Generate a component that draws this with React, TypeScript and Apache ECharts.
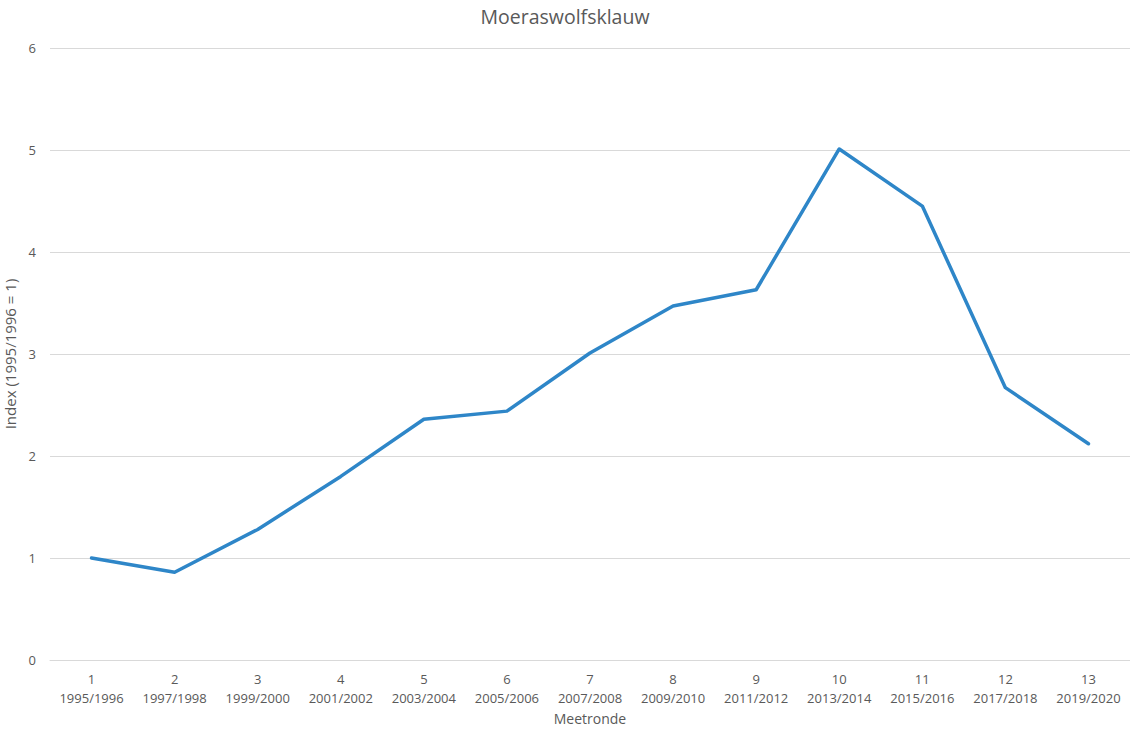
import React, { useEffect, useRef } from "react";
import * as echarts from "echarts";

const rounds = ["1", "2", "3", "4", "5", "6", "7", "8", "9", "10", "11", "12", "13"];
const seasons = [
  "1995/1996", "1997/1998", "1999/2000", "2001/2002", "2003/2004", "2005/2006",
  "2007/2008", "2009/2010", "2011/2012", "2013/2014", "2015/2016", "2017/2018", "2019/2020",
];
const indexValues = [1.0, 0.86, 1.28, 1.8, 2.36, 2.44, 3.01, 3.47, 3.63, 5.01, 4.45, 2.67, 2.12];
const yTicks = [0, 6, 1];

const FONT = "'Open Sans', 'Noto Sans', sans-serif";

export default function App() {
  const ref = useRef<HTMLDivElement>(null);

  useEffect(() => {
    if (!ref.current) return;
    const chart = echarts.init(ref.current, undefined, { renderer: "svg" });
    const categories = rounds.map((r, i) => `${r}\n${seasons[i]}`);
    chart.setOption({
      animation: false,
      backgroundColor: "#ffffff",
      textStyle: { fontFamily: FONT },
      title: {
        text: "Moeraswolfsklauw",
        left: "center",
        top: 1,
        textStyle: { fontFamily: FONT, fontSize: 19.5, fontWeight: "normal", color: "#595959" },
      },
      grid: {
        left: 50,
        right: 0,
        top: 48,
        bottom: 69,
        containLabel: false,
        outerBoundsMode: "none",
      },
      xAxis: {
        type: "category",
        data: categories,
        boundaryGap: true,
        name: "Meetronde",
        nameLocation: "middle",
        nameGap: 51,
        nameTextStyle: { fontFamily: FONT, fontSize: 14, color: "#595959" },
        axisLine: { show: true, lineStyle: { color: "#d9d9d9", width: 1 } },
        axisTick: { show: false },
        axisLabel: {
          fontFamily: FONT,
          fontSize: 13,
          color: "#595959",
          lineHeight: 19,
          margin: 9,
          interval: 0,
        },
      },
      yAxis: {
        type: "value",
        min: yTicks[0],
        max: yTicks[1],
        interval: yTicks[2],
        name: "Index (1995/1996 = 1)",
        nameLocation: "middle",
        nameGap: 27,
        nameRotate: 90,
        nameTextStyle: { fontFamily: FONT, fontSize: 15, color: "#595959" },
        axisLine: { show: false },
        axisTick: { show: false },
        axisLabel: { fontFamily: FONT, fontSize: 13, color: "#595959", margin: 14 },
        splitLine: { lineStyle: { color: "#d9d9d9", width: 1 } },
      },
      series: [
        {
          type: "line",
          data: indexValues,
          symbol: "none",
          lineStyle: { color: "#2e86c8", width: 3.5, cap: "round", join: "round" },
          itemStyle: { color: "#2e86c8" },
        },
      ],
    });
    return () => chart.dispose();
  }, []);

  return (
    <div
      ref={ref}
      style={{ position: "fixed", left: 0, top: 0, width: 1130, height: 729 }}
    />
  );
}
